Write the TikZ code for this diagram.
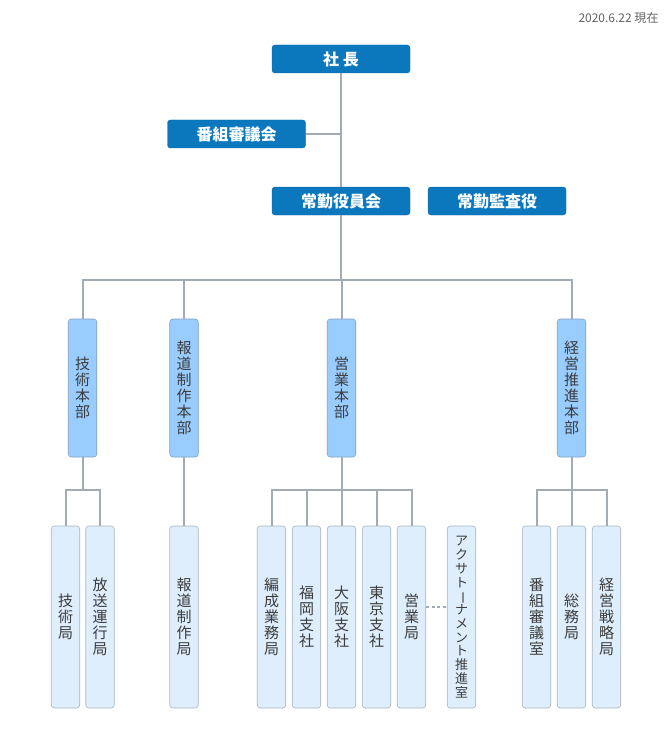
\documentclass[tikz,border=0pt]{standalone}
\usepackage{fontspec}
\setmainfont{Noto Sans CJK JP}
\usepackage{graphicx}
\definecolor{topblue}{RGB}{11,120,190}
\definecolor{midblue}{RGB}{153,204,255}
\definecolor{midborder}{RGB}{130,160,190}
\definecolor{lowfill}{RGB}{222,238,253}
\definecolor{lowborder}{RGB}{168,180,192}
\definecolor{linegray}{RGB}{163,171,180}
\definecolor{txtgray}{RGB}{60,60,60}
\begin{document}
\begin{tikzpicture}[x=1pt,y=-1pt,
  topbox/.style={rectangle, rounded corners=3pt, fill=topblue, draw=topblue!85!black, line width=0.4pt,
    minimum width=138pt, minimum height=28pt, inner sep=0pt, text=white,
    font=\fontsize{16}{17}\selectfont\bfseries},
  midbox/.style={rectangle, rounded corners=3pt, fill=midblue, draw=midborder, line width=0.6pt,
    minimum width=28.5pt, minimum height=138pt, inner sep=0pt, align=center, text=txtgray,
    font=\fontsize{15}{16}\selectfont},
  lowbox/.style={rectangle, rounded corners=3pt, fill=lowfill, draw=lowborder, line width=0.6pt,
    minimum width=28.5pt, minimum height=182pt, inner sep=0pt, align=center, text=txtgray,
    font=\fontsize{15}{16}\selectfont},
  conn/.style={draw=linegray, line width=2pt}]
\useasboundingbox (0,0) rectangle (669,738);

\node[text=txtgray!80, font=\fontsize{12}{13}\selectfont] (date) at (618.5,18) {2020.6.22 現在};

\node[topbox] (shacho) at (341,59) {社 長};
\node[topbox] (bangumi) at (236.5,134) {番組審議会};
\node[topbox] (jomu) at (341,201) {常勤役員会};
\node[topbox] (kansa) at (497,201) {常勤監査役};

\node[midbox] (gi) at (82.5,388) {技\\術\\本\\部};
\node[midbox] (hodo) at (184,388) {報\\道\\制\\作\\本\\部};
\node[midbox] (eigyo) at (341.5,388) {営\\業\\本\\部};
\node[midbox] (keiei) at (571.5,388) {経\\営\\推\\進\\本\\部};

\node[lowbox] (gk) at (65.5,617) {技\\術\\局};
\node[lowbox] (hk) at (100,617) {放\\送\\運\\行\\局};
\node[lowbox] (hdk) at (184,617) {報\\道\\制\\作\\局};
\node[lowbox] (hg) at (271.5,617) {編\\成\\業\\務\\局};
\node[lowbox] (fk) at (306.5,617) {福\\岡\\支\\社};
\node[lowbox] (os) at (341.5,617) {大\\阪\\支\\社};
\node[lowbox] (tk) at (376.5,617) {東\\京\\支\\社};
\node[lowbox] (ek) at (411.5,617) {営\\業\\局};
\node[lowbox, font=\fontsize{13}{13.75}\selectfont] (axa) at (461.5,617) {ア\\ク\\サ\\ト\\\rotatebox[origin=c]{-90}{ー}\\ナ\\メ\\ン\\ト\\推\\進\\室};
\node[lowbox] (bs) at (536.5,617) {番\\組\\審\\議\\室};
\node[lowbox] (sm) at (571.5,617) {総\\務\\局};
\node[lowbox] (ks) at (606.5,617) {経\\営\\戦\\略\\局};

\coordinate (bus) at (341,280);
\coordinate (sb) at (0,490);

\path[conn] (shacho.south) -- (jomu.north);
\path[conn] (bangumi.east) -- (bangumi.east -| shacho.south);
\path[conn] (jomu.south) -- (jomu.south |- bus);
\path[conn] (gi.north) -- (gi.north |- bus) -| (keiei.north);
\path[conn] (hodo.north) -- (hodo.north |- bus);
\path[conn] (eigyo.north) -- (eigyo.north |- bus);

\path[conn] (gi.south) -- (gi.south |- sb);
\path[conn] (gk.north) -- (gk.north |- sb) -| (hk.north);
\path[conn] (hodo.south) -- (hdk.north);
\path[conn] (eigyo.south) -- (eigyo.south |- sb);
\path[conn] (hg.north) -- (hg.north |- sb) -| (ek.north);
\path[conn] (fk.north) -- (fk.north |- sb);
\path[conn] (os.north) -- (os.north |- sb);
\path[conn] (tk.north) -- (tk.north |- sb);
\path[conn] (keiei.south) -- (keiei.south |- sb);
\path[conn] (bs.north) -- (bs.north |- sb) -| (ks.north);
\path[conn] (sm.north) -- (sm.north |- sb);

\path[draw=linegray, line width=1.2pt, dash pattern=on 3pt off 2.5pt] ([yshift=10pt]ek.east) -- ([yshift=10pt]axa.west);
\end{tikzpicture}
\end{document}
